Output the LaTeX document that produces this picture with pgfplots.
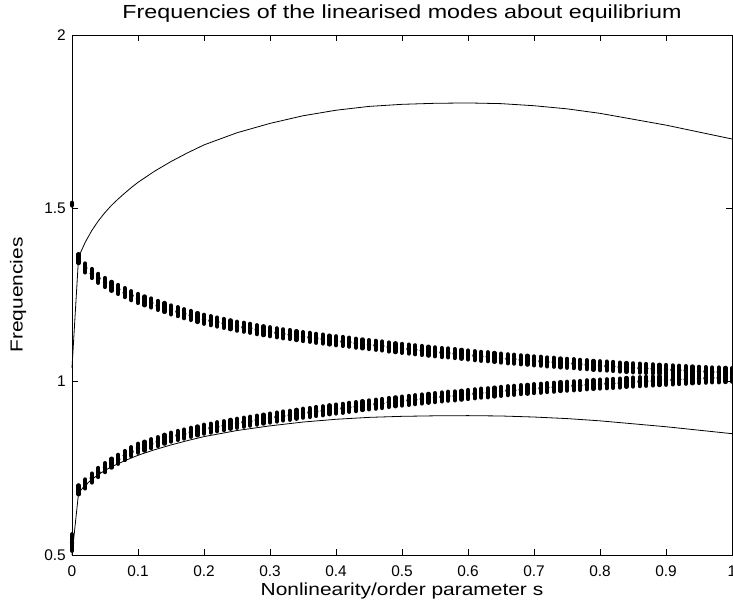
\documentclass[border=0pt]{standalone}
\usepackage{fontspec}
\setmainfont{Liberation Sans}
\usepackage{pgfplots}
\usepackage{pgfplotstable}
\pgfplotsset{compat=1.18}

% clusters of mode frequencies at s = 0.01 ... 1.00 (upper band u, lower band l)
\pgfplotstableread{
s u l
0.01 1.355 0.688
0.02 1.328 0.705
0.03 1.312 0.722
0.04 1.298 0.738
0.05 1.286 0.752
0.06 1.275 0.765
0.07 1.266 0.776
0.08 1.257 0.787
0.09 1.248 0.798
0.10 1.240 0.808
0.11 1.233 0.814
0.12 1.227 0.821
0.13 1.220 0.827
0.14 1.214 0.834
0.15 1.207 0.840
0.16 1.202 0.845
0.17 1.196 0.849
0.18 1.191 0.854
0.19 1.185 0.858
0.20 1.180 0.863
0.21 1.176 0.866
0.22 1.172 0.870
0.23 1.168 0.873
0.24 1.164 0.877
0.25 1.160 0.880
0.26 1.157 0.883
0.27 1.154 0.886
0.28 1.150 0.889
0.29 1.147 0.892
0.30 1.144 0.895
0.31 1.141 0.898
0.32 1.138 0.901
0.33 1.136 0.903
0.34 1.133 0.906
0.35 1.130 0.909
0.36 1.128 0.911
0.37 1.125 0.914
0.38 1.123 0.916
0.39 1.120 0.919
0.40 1.118 0.921
0.41 1.116 0.923
0.42 1.114 0.926
0.43 1.111 0.928
0.44 1.109 0.931
0.45 1.107 0.933
0.46 1.105 0.935
0.47 1.103 0.937
0.48 1.100 0.940
0.49 1.098 0.942
0.50 1.096 0.944
0.51 1.094 0.946
0.52 1.092 0.948
0.53 1.090 0.950
0.54 1.088 0.952
0.55 1.086 0.954
0.56 1.084 0.956
0.57 1.083 0.958
0.58 1.081 0.959
0.59 1.079 0.961
0.60 1.077 0.963
0.61 1.075 0.965
0.62 1.073 0.967
0.63 1.072 0.968
0.64 1.070 0.970
0.65 1.068 0.972
0.66 1.066 0.974
0.67 1.065 0.975
0.68 1.063 0.977
0.69 1.062 0.978
0.70 1.060 0.980
0.71 1.059 0.981
0.72 1.057 0.983
0.73 1.056 0.984
0.74 1.054 0.986
0.75 1.053 0.987
0.76 1.052 0.988
0.77 1.050 0.989
0.78 1.049 0.991
0.79 1.047 0.992
0.80 1.046 0.993
0.81 1.045 0.994
0.82 1.044 0.995
0.83 1.042 0.996
0.84 1.041 0.998
0.85 1.040 0.999
0.86 1.039 1.000
0.87 1.038 1.001
0.88 1.037 1.002
0.89 1.036 1.003
0.90 1.035 1.004
0.91 1.034 1.005
0.92 1.033 1.006
0.93 1.032 1.007
0.94 1.031 1.008
0.95 1.030 1.009
0.96 1.029 1.010
0.97 1.028 1.011
0.98 1.028 1.011
0.99 1.027 1.012
1.00 1.026 1.013
}\bands

% the two solid curves
\pgfplotstableread{
s up lo
0.00 1.040 0.500
0.01 1.360 0.680
0.02 1.402 0.701
0.03 1.436 0.718
0.04 1.464 0.732
0.05 1.488 0.744
0.06 1.509 0.7545
0.07 1.527 0.7635
0.08 1.544 0.772
0.09 1.560 0.780
0.10 1.575 0.7875
0.125 1.607 0.8035
0.15 1.635 0.8175
0.175 1.660 0.830
0.20 1.683 0.8415
0.25 1.718 0.859
0.30 1.745 0.8725
0.35 1.767 0.8835
0.40 1.783 0.8915
0.45 1.794 0.897
0.50 1.800 0.900
0.55 1.803 0.9015
0.60 1.804 0.902
0.65 1.802 0.901
0.70 1.796 0.898
0.75 1.787 0.8935
0.80 1.774 0.887
0.85 1.757 0.8785
0.90 1.740 0.870
0.95 1.720 0.860
1.00 1.700 0.850
}\curves

\begin{document}
\begin{tikzpicture}
\begin{axis}[
  at={(0,0)}, anchor=south west,
  scale only axis, width=660bp, height=520bp,
  xmin=0, xmax=1, ymin=0.5, ymax=2,
  xtick={0,0.1,0.2,0.3,0.4,0.5,0.6,0.7,0.8,0.9,1},
  xticklabels={0,0.1,0.2,0.3,0.4,0.5,0.6,0.7,0.8,0.9,1},
  ytick={0.5,1,1.5,2},
  yticklabels={0.5,1,1.5,2},
  tick align=inside,
  major tick length=6bp,
  xtick pos=both, ytick pos=both,
  tick style={black, line width=0.6bp},
  axis line style={black, line width=0.8bp},
  ticklabel style={font=\fontsize{15.5}{15.5}\selectfont},
  xticklabel style={anchor=base, yshift=-21bp, inner sep=0pt},
  yticklabel style={anchor=east, xshift=-6bp, inner sep=0pt},
  title={\scalebox{1.23}[1]{Frequencies of the linearised modes about equilibrium}},
  title style={font=\fontsize{19}{19}\selectfont, at={(axis description cs:0.5,1)}, anchor=base, yshift=11bp, inner sep=0pt},
  xlabel={\scalebox{1.2}[1]{Nonlinearity/order parameter s}},
  xlabel style={font=\fontsize{17.5}{17.5}\selectfont, at={(axis description cs:0.5,0)}, anchor=base, yshift=-40bp, inner sep=0pt},
  ylabel={\scalebox{1.2}[1]{Frequencies}},
  ylabel style={font=\fontsize{17.5}{17.5}\selectfont, at={(axis description cs:-0.0818,0.5)}, anchor=center, inner sep=0pt},
  clip=false,
]
\addplot[black, line width=0.8bp] table[x=s, y=up] {\curves};
\addplot[black, line width=0.8bp] table[x=s, y=lo] {\curves};
\addplot[only marks, mark=none,
  error bars/.cd, y dir=both, y fixed=0.013, error mark=none,
  error bar style={black, line width=4.2bp, line cap=round}]
  table[x=s, y=u] {\bands};
\addplot[only marks, mark=none,
  error bars/.cd, y dir=both, y fixed=0.013, error mark=none,
  error bar style={black, line width=4.2bp, line cap=round}]
  table[x=s, y=l] {\bands};
% clusters at s = 0
\addplot[only marks, mark=none,
  error bars/.cd, y dir=both, y explicit, error mark=none,
  error bar style={black, line width=4.2bp, line cap=round}]
  coordinates {(0,1.512) +- (0,0.004) (0,0.536) +- (0,0.024)};
\end{axis}
\pgfresetboundingbox
\path[use as bounding box] (-72bp,-50bp) rectangle (661bp,555bp);
\end{tikzpicture}
\end{document}
